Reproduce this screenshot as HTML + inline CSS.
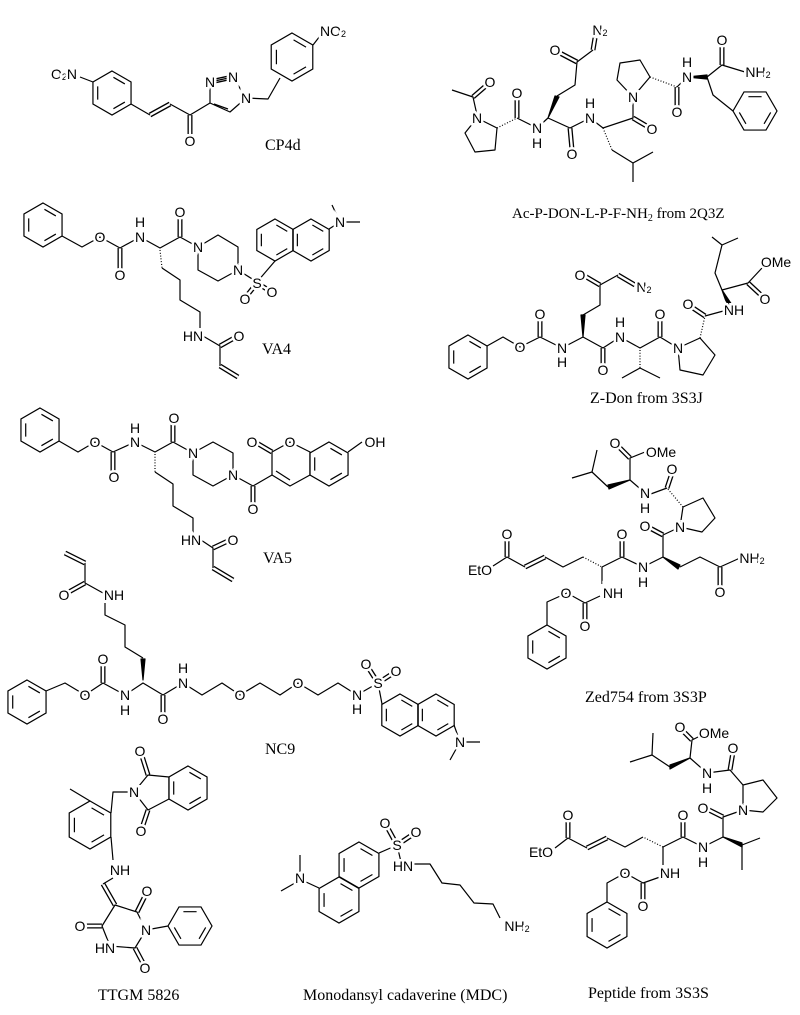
<!DOCTYPE html>
<html><head><meta charset="utf-8"><style>
html,body{margin:0;padding:0;background:#fff}
svg{display:block}
.s line,.s polyline,.s polygon{stroke:#000;stroke-width:1.2;fill:none;stroke-linejoin:round}
.h{stroke:#000;stroke-width:4;stroke-dasharray:1 1.8;fill:none}
.w{fill:#000;stroke:none}
.a{font-family:"Liberation Sans",sans-serif;font-size:14px;text-anchor:middle;dominant-baseline:central;paint-order:stroke;stroke:#fff;stroke-width:5px;fill:#000}
.L{font-family:"Liberation Serif",serif;font-size:16px;fill:#000}
</style></head><body>
<svg width="800" height="1015" viewBox="0 0 800 1015" xmlns="http://www.w3.org/2000/svg">
<defs>
<g id="b21"><polygon points="0,-21 18.19,-10.5 18.19,10.5 0,21 -18.19,10.5 -18.19,-10.5" fill="none" stroke="#000" stroke-width="1.2"/><polygon points="0,-15.75 13.64,-7.875 13.64,7.875 0,15.75 -13.64,7.875 -13.64,-7.875" fill="none" stroke="#000" stroke-width="1.2" stroke-dasharray="12.6 18.9" stroke-dashoffset="-1.575"/></g>
<g id="b22"><polygon points="0,-22 19.05,-11 19.05,11 0,22 -19.05,11 -19.05,-11" fill="none" stroke="#000" stroke-width="1.2"/><polygon points="0,-16.5 14.29,-8.25 14.29,8.25 0,16.5 -14.29,8.25 -14.29,-8.25" fill="none" stroke="#000" stroke-width="1.2" stroke-dasharray="13.2 19.8" stroke-dashoffset="-1.65"/></g>
<g id="b23"><polygon points="0,-23 19.92,-11.5 19.92,11.5 0,23 -19.92,11.5 -19.92,-11.5" fill="none" stroke="#000" stroke-width="1.2"/><polygon points="0,-17.25 14.94,-8.625 14.94,8.625 0,17.25 -14.94,8.625 -14.94,-8.625" fill="none" stroke="#000" stroke-width="1.2" stroke-dasharray="13.8 20.7" stroke-dashoffset="-1.725"/></g>
<g id="b24"><polygon points="0,-24 20.78,-12 20.78,12 0,24 -20.78,12 -20.78,-12" fill="none" stroke="#000" stroke-width="1.2"/><polygon points="0,-18 15.59,-9 15.59,9 0,18 -15.59,9 -15.59,-9" fill="none" stroke="#000" stroke-width="1.2" stroke-dasharray="14.4 21.6" stroke-dashoffset="-1.8"/></g>
<g id="dbl">
<line x1="150" y1="115" x2="170" y2="104"/><line x1="190" y1="115" x2="190" y2="134"/>
<line x1="120" y1="248" x2="120" y2="270"/><line x1="180" y1="237" x2="180" y2="216"/><line x1="220" y1="346" x2="236" y2="337"/><line x1="220" y1="366" x2="238" y2="377"/>
<line x1="113" y1="452" x2="113" y2="472"/><line x1="173" y1="442" x2="173" y2="422"/><line x1="253" y1="486" x2="253" y2="505"/><line x1="272" y1="452" x2="255" y2="442"/><line x1="213" y1="548" x2="230" y2="540"/><line x1="213" y1="568" x2="233" y2="580"/>
<line x1="65" y1="553" x2="85" y2="563"/><line x1="85" y1="583" x2="67" y2="593"/><line x1="103" y1="683" x2="103" y2="663"/><line x1="163" y1="695" x2="163" y2="715"/>
<line x1="148" y1="775" x2="142" y2="756"/><line x1="148" y1="810" x2="142" y2="828"/><line x1="103" y1="884" x2="115" y2="905"/><line x1="137" y1="912" x2="145" y2="896"/><line x1="102" y1="926" x2="85" y2="926"/><line x1="135" y1="948" x2="143" y2="963"/>
<line x1="473" y1="97" x2="488" y2="84"/><line x1="517" y1="118" x2="517" y2="97"/><line x1="577" y1="62" x2="558" y2="52"/><line x1="593" y1="50" x2="595" y2="38"/><line x1="570" y1="128" x2="572" y2="150"/><line x1="633" y1="118" x2="650" y2="128"/><line x1="677" y1="87" x2="677" y2="108"/><line x1="722" y1="65" x2="722" y2="45"/>
<line x1="540" y1="337" x2="540" y2="318"/><line x1="600" y1="285" x2="583" y2="275"/><line x1="618" y1="275" x2="635" y2="285"/><line x1="603" y1="348" x2="603" y2="366"/><line x1="660" y1="337" x2="660" y2="318"/><line x1="705" y1="316" x2="690" y2="306"/><line x1="748" y1="283" x2="762" y2="296"/>
<line x1="507" y1="557" x2="507" y2="538"/><line x1="525" y1="567" x2="545" y2="557"/><line x1="622" y1="557" x2="622" y2="538"/><line x1="720" y1="567" x2="720" y2="587"/><line x1="663" y1="535" x2="648" y2="527"/><line x1="667" y1="488" x2="672" y2="473"/><line x1="630" y1="458" x2="617" y2="445"/><line x1="585" y1="603" x2="585" y2="622"/>
<line x1="692" y1="740" x2="682" y2="730"/><line x1="730" y1="770" x2="733" y2="752"/><line x1="723" y1="817" x2="705" y2="808"/><line x1="683" y1="837" x2="683" y2="819"/><line x1="607" y1="838" x2="587" y2="848"/><line x1="568" y1="838" x2="568" y2="819"/><line x1="643" y1="883" x2="643" y2="902"/>
<line x1="257" y1="283" x2="245" y2="298"/><line x1="257" y1="283" x2="270" y2="291"/>
<line x1="378" y1="683" x2="366" y2="664"/><line x1="378" y1="683" x2="395" y2="672"/>
<line x1="397" y1="845" x2="385" y2="823"/><line x1="397" y1="845" x2="415" y2="833"/>
<line x1="210" y1="82" x2="233" y2="77"/>
</g>
</defs>
<use href="#dbl" stroke="#000" stroke-width="5"/>
<use href="#dbl" stroke="#fff" stroke-width="2.4"/>

<g class="s">
<use href="#b22" x="112" y="93"/>
<use href="#b24" x="292" y="57"/>
<line x1="80" y1="77" x2="93" y2="82"/>
<polyline points="131,104 150,115"/><polyline points="170,104 190,115 210,103"/>
<polygon points="210,103 210,82 233,77 246,98 230,112"/>
<line x1="214" y1="104" x2="228" y2="109"/>
<polyline points="246,98 268,99 280,78"/>
<line x1="313" y1="45" x2="320" y2="36"/>
<use href="#b22" x="43" y="225"/>
<polyline points="62,236 82,247 100,237 120,248 140,237 160,248 180,237 198,247"/>
<polygon points="198,247 218,235 238,247 238,270 218,281 198,270"/>
<line x1="238" y1="270" x2="257" y2="282"/>
<line x1="257" y1="282" x2="275" y2="261"/>
<use href="#b21" x="275" y="240"/><use href="#b21" x="311" y="240"/>
<polyline points="329,229 340,222"/><line x1="340" y1="222" x2="332" y2="205"/><line x1="340" y1="222" x2="360" y2="222"/>
<line class="h" x1="160" y1="250" x2="162" y2="268"/>
<polyline points="162,268 180,280 180,300 200,312 200,328"/>
<polyline points="203,336 220,346 220,366"/>
<use href="#b22" x="40" y="430"/>
<polyline points="59,441 78,452 95,442 113,452 135,442 155,452 173,442 193,453"/>
<polygon points="193,453 213,442 233,453 233,475 213,486 193,475"/>
<polyline points="233,475 253,486 272,475"/>
<polygon points="272,452 290,442 310,452 310,475 290,486 272,475"/>
<line x1="276" y1="471" x2="290" y2="480"/>
<use href="#b22" x="329" y="464"/>
<line x1="348" y1="452" x2="362" y2="442"/>
<line class="h" x1="155" y1="454" x2="155" y2="472"/>
<polyline points="155,472 173,484 173,506 193,518 193,533"/>
<polyline points="201,540 213,548 213,568"/>
<polyline points="85,563 85,583 103,593"/>
<polyline points="105,603 105,615 125,625 125,647 143,658"/>
<polygon class="w" points="143,680 141,659 145,659" style="fill:#000"/>
<use href="#b22" x="27" y="702"/>
<polyline points="46,691 65,683 85,695 103,683 125,695 143,683 163,695 183,683 202,695 222,683 240,695 260,683 280,695 298,683 318,695 338,683 357,695 378,683"/>
<line x1="378" y1="683" x2="382" y2="704"/>
<use href="#b21" x="400" y="715"/><use href="#b21" x="436" y="715"/>
<line x1="454" y1="725" x2="460" y2="742"/><line x1="460" y1="742" x2="480" y2="742"/><line x1="460" y1="742" x2="450" y2="760"/>
<use href="#b24" x="90" y="825"/>
<line x1="90" y1="801" x2="70" y2="789"/>
<polyline points="111,813 113,792 134,792"/>
<polygon points="134,792 148,775 169,777 169,799 148,810"/>
<use href="#b22" x="188" y="788"/>
<line x1="111" y1="837" x2="113" y2="860"/>
<line x1="113" y1="878" x2="103" y2="884"/>
<polygon points="115,905 137,912 146,930 135,948 110,946 102,926"/>
<line x1="146" y1="930" x2="168" y2="926"/>
<use href="#b22" transform="translate(190,926) rotate(90)"/>
<use href="#b23" x="339" y="900"/><use href="#b23" x="359" y="865"/>
<line x1="319" y1="888" x2="306" y2="882"/><line x1="300" y1="872" x2="300" y2="855"/><line x1="295" y1="883" x2="281" y2="891"/>
<line x1="379" y1="853" x2="395" y2="846"/>
<line x1="397" y1="845" x2="401" y2="862"/>
<polyline points="413,864 430,864 442,883 460,885 474,903 493,904 500,918"/>
<polyline points="452,90 473,97 477,115"/>
<polygon points="477,118 465,133 475,152 495,150 497,128"/>
<line class="h" x1="497" y1="128" x2="517" y2="118"/>
<polyline points="517,118 537,128 548,118"/>
<polygon points="548,118 555,96 559,97" style="fill:#000"/>
<polyline points="557,96 575,85 577,62 593,50"/>
<polyline points="548,118 570,128 590,118 603,128"/>
<line class="h" x1="603" y1="128" x2="612" y2="150"/>
<polyline points="612,150 633,163 653,152"/><line x1="633" y1="163" x2="633" y2="182"/>
<polyline points="603,128 633,118 633,97"/>
<polygon points="633,97 617,80 620,63 640,60 650,77"/>
<line class="h" x1="650" y1="77" x2="677" y2="87"/>
<line x1="677" y1="87" x2="687" y2="77"/>
<polygon points="687,77 707,75 707,79" style="fill:#000"/>
<polyline points="707,77 722,65 745,72"/>
<polyline points="707,77 713,95 733,111"/>
<use href="#b22" transform="translate(755,111) rotate(90)"/>
<use href="#b22" x="468" y="357"/>
<polyline points="487,346 503,337 520,347 540,337 562,348 583,337 603,348 620,337 640,348 660,337 678,348"/>
<polygon points="583,337 581,315 585,315" style="fill:#000"/>
<polyline points="583,315 600,305 600,285 618,275"/>
<line class="h" x1="640" y1="350" x2="640" y2="368"/>
<polyline points="622,378 640,368 660,378"/>
<polygon points="678,348 680,370 703,375 715,355 700,338"/>
<line class="h" x1="700" y1="338" x2="705" y2="316"/>
<line x1="705" y1="316" x2="727" y2="310"/>
<polygon points="722,290 728,307 732,305" style="fill:#000"/>
<polyline points="722,290 748,283 762,268"/>
<polyline points="722,290 715,273 722,245 712,237"/><line x1="722" y1="245" x2="738" y2="238"/>
<polyline points="493,566 507,557 525,567"/>
<polyline points="545,557 563,567 583,557"/>
<line class="h" x1="583" y1="557" x2="602" y2="567"/>
<polyline points="602,567 622,557 643,567 663,557"/>
<polygon points="663,557 680,565 678,569" style="fill:#000"/>
<polyline points="680,567 700,557 720,567 740,558"/>
<polyline points="663,557 663,535 680,527"/>
<polygon points="680,527 683,507 703,498 715,518 702,532"/>
<line class="h" x1="683" y1="507" x2="667" y2="488"/>
<line x1="667" y1="488" x2="648" y2="495"/>
<line x1="645" y1="493" x2="630" y2="480"/>
<polygon points="630,480 608,485 609,489" style="fill:#000"/>
<polyline points="608,487 592,472 572,478"/><line x1="592" y1="472" x2="597" y2="450"/>
<polyline points="630,480 630,458 645,452"/>
<line x1="602" y1="567" x2="602" y2="584"/>
<polyline points="600,596 585,603 567,593 547,602 547,625"/>
<use href="#b22" x="547" y="647"/>
<polyline points="702,735 692,740 690,758 707,773 730,770 743,785"/>
<polygon points="690,758 670,765 670,769" style="fill:#000"/>
<polyline points="670,767 652,755 630,762"/><line x1="652" y1="755" x2="653" y2="733"/>
<polygon points="743,810 743,785 763,780 777,798 763,812"/>
<polyline points="743,810 723,817 723,837"/>
<polygon points="723,837 742,843 742,847" style="fill:#000"/>
<polyline points="742,845 760,838"/><line x1="742" y1="845" x2="742" y2="870"/>
<polyline points="723,837 703,847 683,837 663,847"/>
<line class="h" x1="663" y1="847" x2="643" y2="837"/>
<polyline points="643,837 625,847 607,838"/>
<polyline points="587,848 568,838 555,848"/>
<line x1="663" y1="847" x2="663" y2="865"/>
<polyline points="660,877 643,883 625,873 607,883 607,902"/>
<use href="#b23" x="607" y="925"/>
</g>

<g class="a">
<text x="64" y="74">O<tspan font-size="9" dy="3">2</tspan><tspan dy="-3">N</tspan></text>
<text x="190" y="141">O</text>
<text x="210" y="82">N</text><text x="233" y="77">N</text><text x="246" y="98">N</text>
<text x="333" y="31">NO<tspan font-size="9" dy="3">2</tspan></text>
<text x="100" y="237">O</text><text x="120" y="275">O</text><text x="140" y="237">N</text><text x="140" y="222">H</text>
<text x="180" y="212">O</text><text x="198" y="247">N</text><text x="238" y="270">N</text>
<text x="257" y="283">S</text><text x="245" y="299">O</text><text x="272" y="292">O</text>
<text x="340" y="222">N</text>
<text x="193" y="336">HN</text><text x="239" y="336">O</text>
<text x="95" y="442">O</text><text x="114" y="477">O</text><text x="135" y="442">N</text><text x="135" y="428">H</text>
<text x="174" y="418">O</text><text x="193" y="453">N</text><text x="233" y="475">N</text><text x="253" y="509">O</text>
<text x="252" y="442">O</text><text x="290" y="442">O</text><text x="375" y="442">OH</text>
<text x="191" y="540">HN</text><text x="233" y="540">O</text>
<text x="64" y="595">O</text><text x="114" y="595">NH</text>
<text x="85" y="695">O</text><text x="103" y="659">O</text><text x="125" y="695">N</text><text x="125" y="710">H</text>
<text x="163" y="719">O</text><text x="183" y="683">N</text><text x="183" y="668">H</text>
<text x="240" y="695">O</text><text x="298" y="683">O</text><text x="357" y="695">N</text><text x="357" y="709">H</text>
<text x="378" y="683">S</text><text x="366" y="664">O</text><text x="396" y="671">O</text><text x="460" y="742">N</text>
<text x="134" y="792">N</text><text x="140" y="751">O</text><text x="141" y="831">O</text>
<text x="120" y="870">NH</text>
<text x="147" y="891">O</text><text x="146" y="930">N</text><text x="105" y="948">HN</text><text x="80" y="926">O</text><text x="145" y="968">O</text>
<text x="300" y="878">N</text><text x="397" y="845">S</text><text x="385" y="823">O</text><text x="416" y="832">O</text>
<text x="403" y="866">HN</text><text x="517" y="926">NH<tspan font-size="9" dy="3">2</tspan></text>
<text x="490" y="82">O</text><text x="477" y="118">N</text><text x="517" y="93">O</text><text x="537" y="128">N</text><text x="537" y="143">H</text>
<text x="555" y="50">O</text><text x="600" y="30">N<tspan font-size="9" dy="3">2</tspan></text>
<text x="572" y="154">O</text><text x="590" y="118">N</text><text x="590" y="103">H</text>
<text x="652" y="129">O</text><text x="633" y="97">N</text><text x="677" y="112">O</text>
<text x="687" y="77">N</text><text x="687" y="62">H</text><text x="722" y="40">O</text>
<text x="758" y="72">NH<tspan font-size="9" dy="3">2</tspan></text>
<text x="520" y="347">O</text><text x="540" y="314">O</text><text x="562" y="348">N</text><text x="562" y="362">H</text>
<text x="580" y="275">O</text><text x="644" y="287">N<tspan font-size="9" dy="3">2</tspan></text>
<text x="603" y="370">O</text><text x="620" y="337">N</text><text x="620" y="322">H</text>
<text x="660" y="314">O</text><text x="678" y="348">N</text><text x="688" y="304">O</text>
<text x="734" y="310">NH</text><text x="765" y="299">O</text><text x="776" y="262">OMe</text>
<text x="480" y="570">EtO</text><text x="507" y="534">O</text><text x="622" y="534">O</text>
<text x="643" y="567">N</text><text x="643" y="582">H</text><text x="720" y="592">O</text>
<text x="752" y="558">NH<tspan font-size="9" dy="3">2</tspan></text>
<text x="645" y="526">O</text><text x="680" y="527">N</text><text x="672" y="469">O</text>
<text x="645" y="493">N</text><text x="645" y="508">H</text>
<text x="615" y="443">O</text><text x="661" y="452">OMe</text>
<text x="613" y="593">NH</text><text x="585" y="626">O</text><text x="566" y="593">O</text>
<text x="680" y="727">O</text><text x="714" y="733">OMe</text>
<text x="707" y="773">N</text><text x="707" y="788">H</text><text x="733" y="748">O</text>
<text x="743" y="810">N</text><text x="703" y="808">O</text>
<text x="703" y="847">N</text><text x="703" y="862">H</text><text x="683" y="815">O</text>
<text x="568" y="815">O</text><text x="541" y="852">EtO</text>
<text x="670" y="873">NH</text><text x="643" y="906">O</text><text x="625" y="873">O</text>
</g>

<text class="L" x="265" y="150">CP4d</text>
<text class="L" x="512" y="218" style="font-size:15px">Ac-P-DON-L-P-F-NH<tspan font-size="10" dy="3">2</tspan><tspan dy="-3"> from 2Q3Z</tspan></text>
<text class="L" x="262" y="354">VA4</text>
<text class="L" x="590" y="403">Z-Don from 3S3J</text>
<text class="L" x="263" y="563">VA5</text>
<text class="L" x="265" y="754">NC9</text>
<text class="L" x="585" y="702">Zed754 from 3S3P</text>
<text class="L" x="98" y="1000">TTGM 5826</text>
<text class="L" x="303" y="1000">Monodansyl cadaverine (MDC)</text>
<text class="L" x="588" y="998">Peptide from 3S3S</text>
</svg>
</body></html>
